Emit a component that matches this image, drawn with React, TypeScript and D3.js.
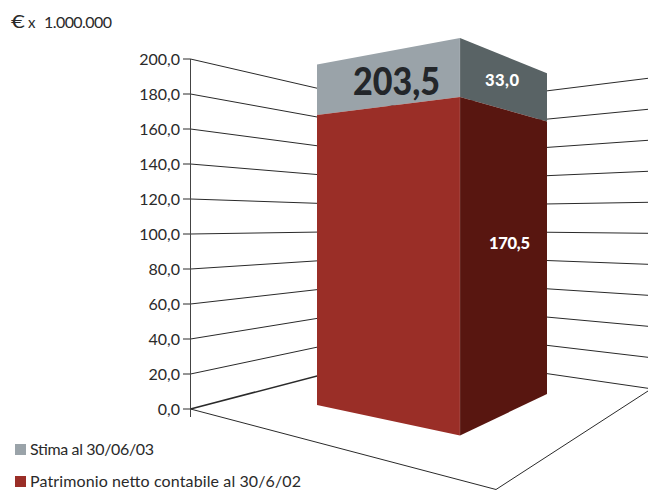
import React from "react";
import * as d3 from "d3";

// Axis and series values, in millions of euro
const tickValues = [0, 20, 40, 60, 80, 100, 120, 140, 160, 180, 200];
const bookValue = 170.5;
const estimateIncrease = 33.0;
const estimateTotal = 203.5;
const legendItems = ["Stima al 30/06/03", "Patrimonio netto contabile al 30/6/02"];
const legendTextWidths = [124, 271];

const FONT = "Lato, 'Noto Sans', sans-serif";
const GREY_FRONT = "#9aa3a9";
const GREY_SIDE = "#596365";
const RED_FRONT = "#9a2e27";
const RED_SIDE = "#581610";
const INK = "#2a2a2a";

const fmt = (v: number) => v.toFixed(1).replace(".", ",");

// Vertical scales for the wall edges of the perspective box
const axisDomain = [0, 200];
const wallFrontLeft = d3.scaleLinear().domain(axisDomain).range([409, 59]);
const wallCorner = d3.scaleLinear().domain(axisDomain).range([353, 108.5]);
const wallRight = d3.scaleLinear().domain(axisDomain).range([388.3, 78.3]);

// Vertical scales for the three visible edges of the column
const stackDomain = [0, bookValue, estimateTotal];
const barLeft = d3.scaleLinear().domain(stackDomain).range([405, 115, 64.5]);
const barMid = d3.scaleLinear().domain(stackDomain).range([435.5, 97, 38]);
const barRight = d3.scaleLinear().domain(stackDomain).range([394, 121.5, 73.3]);

const X_AXIS = 190.5;
const X_CORNER = 405;
const X_EDGE = 648;
const X_BAR_L = 317;
const X_BAR_M = 460;
const X_BAR_R = 547;

const poly = d3.line<[number, number]>();

function face(
  xa: number,
  xb: number,
  sa: d3.ScaleLinear<number, number>,
  sb: d3.ScaleLinear<number, number>,
  v0: number,
  v1: number
) {
  return (
    poly([
      [xa, sa(v0)],
      [xb, sb(v0)],
      [xb, sb(v1)],
      [xa, sa(v1)],
    ]) + "Z"
  );
}

export default function App() {
  const base = 0;
  const top = bookValue + estimateIncrease;
  return (
    <svg
      width={648}
      height={490}
      viewBox="0 0 648 490"
      style={{ position: "absolute", left: 0, top: 0, background: "#fff" }}
      fontFamily={FONT}
    >
      <g fill={INK}>
        <text x={11} y={28} fontSize={18} textLength={14} lengthAdjust="spacingAndGlyphs">€</text>
        <text x={28} y={28} fontSize={15}>x</text>
        <text x={44} y={28} fontSize={16} textLength={68}>1.000.000</text>
      </g>

      {/* Side walls of the box */}
      {tickValues.map((v) => (
        <g key={v} stroke={INK} fill="none" strokeWidth={v === 0 ? 1.5 : 1}>
          <line x1={X_AXIS} y1={wallFrontLeft(v)} x2={X_CORNER} y2={wallCorner(v)} />
          <line x1={X_CORNER} y1={wallCorner(v)} x2={X_EDGE} y2={wallRight(v)} strokeWidth={1} />
          <line x1={183} y1={wallFrontLeft(v)} x2={X_AXIS} y2={wallFrontLeft(v)} strokeWidth={1} />
        </g>
      ))}
      <line x1={X_AXIS} y1={wallFrontLeft(200)} x2={X_AXIS} y2={417} stroke="#444" strokeWidth={1} />

      {/* Floor outline */}
      <path
        d={poly([[X_AXIS, wallFrontLeft(0)], [496, 489.5], [X_EDGE, 391]]) as string}
        fill="none"
        stroke={INK}
        strokeWidth={1}
      />

      {tickValues.map((v) => (
        <text key={v} x={180} y={wallFrontLeft(v) + 5.5} textAnchor="end" fontSize={16} fill={INK}>
          {fmt(v)}
        </text>
      ))}

      {/* Stacked column */}
      <path d={face(X_BAR_L, X_BAR_M, barLeft, barMid, bookValue, top)} fill={GREY_FRONT} />
      <path d={face(X_BAR_M, X_BAR_R, barMid, barRight, bookValue, top)} fill={GREY_SIDE} />
      <path d={face(X_BAR_L, X_BAR_M, barLeft, barMid, base, bookValue)} fill={RED_FRONT} />
      <path d={face(X_BAR_M, X_BAR_R, barMid, barRight, base, bookValue)} fill={RED_SIDE} />
      <line x1={X_BAR_M} y1={barMid(top)} x2={X_BAR_M} y2={barMid(0)} stroke="#fff" strokeOpacity={0.2} strokeWidth={0.75} />

      <text x={353} y={95} fontSize={37} fontWeight={900} fill="#23262a" textLength={87} lengthAdjust="spacingAndGlyphs">
        {fmt(estimateTotal)}
      </text>
      <text x={485} y={86} fontSize={16.5} fontWeight={900} fill="#fff" textLength={34}>
        {fmt(estimateIncrease)}
      </text>
      <text x={489} y={249} fontSize={16.5} fontWeight={900} fill="#fff" textLength={41}>
        {fmt(bookValue)}
      </text>

      {/* Legend */}
      {legendItems.map((label, i) => (
        <g key={label}>
          <rect x={15} y={444 + i * 32} width={11} height={11} fill={i === 0 ? GREY_FRONT : RED_FRONT} />
          <text x={30} y={454.5 + i * 32} fontSize={16} fill={INK} textLength={legendTextWidths[i]}>
            {label}
          </text>
        </g>
      ))}
    </svg>
  );
}
